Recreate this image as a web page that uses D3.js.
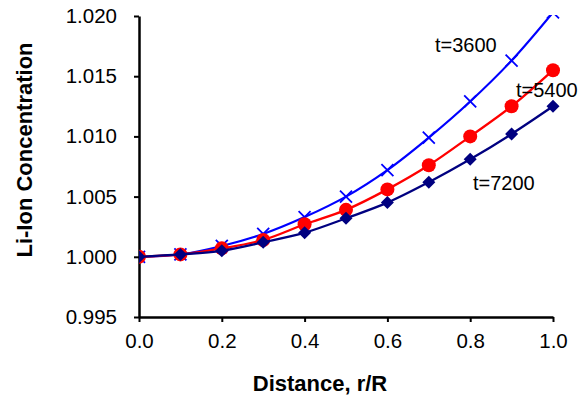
<!DOCTYPE html>
<html><head><meta charset="utf-8">
<script src="https://cdn.jsdelivr.net/npm/d3@7"></script>
<style>body{margin:0;background:#fff}svg{display:block}text{font-family:Arial,"Liberation Sans",sans-serif}</style>
</head><body>
<script>
const xVals = [0.0,0.1,0.2,0.3,0.4,0.5,0.6,0.7,0.8,0.9,1.0];
const t3600 = [1.0000,1.0002,1.0009,1.0019,1.0033,1.0050,1.0072,1.0099,1.0129,1.0163,1.0203];
const t5400 = [1.0000,1.0002,1.0007,1.0014,1.0027,1.0039,1.0056,1.0076,1.0100,1.0125,1.0155];
const t7200 = [1.0000,1.0002,1.0005,1.0012,1.0020,1.0032,1.0045,1.0062,1.0081,1.0102,1.0125];
const yTicks = [0.995,1.000,1.005,1.010,1.015,1.020];
const xTicks = [0.0,0.2,0.4,0.6,0.8,1.0];
const seriesLabels = ["t=3600","t=5400","t=7200"];

const W=579,H=399;
const m={l:139,r:26,t:16,b:82};
const svg=d3.select("body").append("svg").attr("width",W).attr("height",H);
const x=d3.scaleLinear().domain([0,1]).range([m.l,W-m.r]);
const y=d3.scaleLinear().domain([0.995,1.020]).range([H-m.b,m.t]);

svg.append("clipPath").attr("id","clip").append("rect")
  .attr("x",m.l).attr("y",m.t-1).attr("width",W-m.r-m.l+8).attr("height",H-m.b-m.t+1);

const gx=svg.append("g").attr("transform",`translate(0,${H-m.b})`)
  .call(d3.axisBottom(x).tickValues(xTicks).tickFormat(d3.format(".1f")).tickSize(5).tickSizeOuter(0).tickPadding(11));
const gy=svg.append("g").attr("transform",`translate(${m.l},0)`)
  .call(d3.axisLeft(y).tickValues(yTicks).tickFormat(d3.format(".3f")).tickSize(5).tickSizeOuter(0).tickPadding(17));
[gx,gy].forEach(g=>{
  g.select(".domain").attr("stroke","#000").attr("stroke-width",2.5);
  g.selectAll(".tick line").attr("stroke","#000").attr("stroke-width",2);
  g.selectAll(".tick text").attr("fill","#000").style("font-size","20.5px").style("font-family","Arial,'Liberation Sans',sans-serif");
});

const plot=svg.append("g").attr("clip-path","url(#clip)");
const line=d3.line().x((d,i)=>x(xVals[i])).y(d=>y(d)).curve(d3.curveCatmullRom.alpha(0.5));

// t=3600 blue with x markers
plot.append("path").datum(t3600).attr("d",line).attr("fill","none").attr("stroke","#0000FF").attr("stroke-width",2.2);
const s=6;
plot.selectAll(".xm").data(t3600).enter().append("path")
  .attr("d",(d,i)=>{const cx=x(xVals[i]),cy=y(d);return `M${cx-s},${cy-s}L${cx+s},${cy+s}M${cx-s},${cy+s}L${cx+s},${cy-s}`;})
  .attr("stroke","#0000FF").attr("stroke-width",1.8).attr("fill","none");

// t=5400 red circles
plot.append("path").datum(t5400).attr("d",line).attr("fill","none").attr("stroke","#FF0000").attr("stroke-width",2.3);
plot.selectAll(".cm").data(t5400).enter().append("circle")
  .attr("cx",(d,i)=>x(xVals[i])).attr("cy",d=>y(d)).attr("r",7).attr("fill","#FF0000");

// t=7200 navy diamonds
plot.append("path").datum(t7200).attr("d",line).attr("fill","none").attr("stroke","#000080").attr("stroke-width",2.3);
const dm=6.5;
plot.selectAll(".dm").data(t7200).enter().append("path")
  .attr("d",(d,i)=>{const cx=x(xVals[i]),cy=y(d);return `M${cx},${cy-dm}L${cx+dm},${cy}L${cx},${cy+dm}L${cx-dm},${cy}Z`;})
  .attr("fill","#000080");

// annotations
const ann=[{t:seriesLabels[0],x:435,y:52},{t:seriesLabels[1],x:516,y:97},{t:seriesLabels[2],x:473,y:190}];
svg.selectAll(".ann").data(ann).enter().append("text")
  .attr("x",d=>d.x).attr("y",d=>d.y).text(d=>d.t).style("font-size","20px").attr("fill","#000");

svg.append("text").attr("x",320).attr("y",391).attr("text-anchor","middle")
  .style("font-size","22px").style("font-weight","bold").text("Distance, r/R");
svg.append("text").attr("transform","translate(32,150) rotate(-90)").attr("text-anchor","middle")
  .style("font-size","22px").style("font-weight","bold").text("Li-Ion Concentration");
</script>
</body></html>
